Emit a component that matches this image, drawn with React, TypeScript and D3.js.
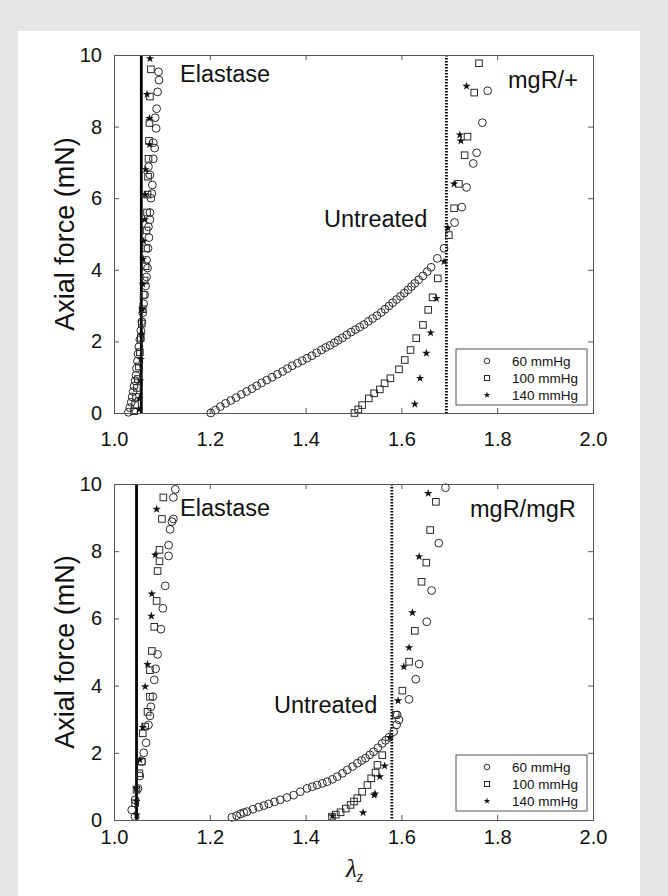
import React, { useEffect, useRef } from "react";
import * as d3 from "d3";

type Pt = [number, number];

const xTicks = [1.0, 1.2, 1.4, 1.6, 1.8, 2.0];
const yTicks = [0, 2, 4, 6, 8, 10];
const legendLabels = ["60 mmHg", "100 mmHg", "140 mmHg"];

// vertical reference lines (lambda_z): [mgR/+, mgR/mgR]
const elastaseRef = [1.057, 1.047];
const untreatedRef = [1.694, 1.58];

// ---- mgR/+ (top) ----
const hetElastase60: Pt[] = [
  [1.030, 0.02], [1.033, 0.15], [1.036, 0.3], [1.038, 0.45], [1.040, 0.6], [1.042, 0.75],
  [1.044, 0.9], [1.046, 1.05], [1.047, 1.25], [1.049, 1.45], [1.050, 1.65], [1.052, 1.85],
  [1.054, 2.05], [1.056, 2.3], [1.058, 2.55], [1.060, 2.8], [1.062, 3.05], [1.064, 3.3],
  [1.066, 3.55], [1.068, 3.8], [1.070, 4.05], [1.068, 4.27], [1.071, 4.6], [1.073, 4.9],
  [1.072, 5.2], [1.075, 5.4], [1.075, 5.6], [1.077, 6.0], [1.079, 6.13], [1.080, 6.37],
  [1.075, 6.65], [1.072, 6.88], [1.082, 7.1], [1.085, 7.4], [1.082, 7.55], [1.088, 7.95],
  [1.086, 8.25], [1.089, 8.5], [1.091, 8.97], [1.094, 9.3], [1.093, 9.53]
];
const hetElastase100: Pt[] = [
  [1.042, 0.05], [1.044, 0.22], [1.046, 0.45], [1.048, 0.7], [1.050, 0.95], [1.052, 1.3],
  [1.054, 1.7], [1.056, 2.1], [1.058, 2.5], [1.060, 2.9], [1.062, 3.3], [1.064, 3.7],
  [1.066, 4.1], [1.067, 4.6], [1.068, 5.1], [1.069, 5.6], [1.070, 6.1], [1.071, 6.6],
  [1.072, 7.1], [1.073, 7.6], [1.074, 8.1], [1.075, 8.84], [1.077, 9.6]
];
const hetElastase140: Pt[] = [
  [1.052, 0.1], [1.053, 0.4], [1.055, 0.9], [1.056, 1.5], [1.058, 2.2], [1.059, 2.9],
  [1.060, 3.6], [1.061, 4.3], [1.062, 4.8], [1.064, 5.4], [1.065, 6.1], [1.066, 6.8],
  [1.074, 7.5], [1.074, 8.23], [1.069, 8.9], [1.075, 9.9]
];
const hetUntreated60: Pt[] = [
  [1.202, 0.0], [1.212, 0.08], [1.222, 0.18], [1.233, 0.27], [1.244, 0.35], [1.255, 0.43],
  [1.266, 0.52], [1.277, 0.6], [1.288, 0.68], [1.298, 0.76], [1.308, 0.84], [1.319, 0.92],
  [1.330, 1.0], [1.341, 1.08], [1.352, 1.16], [1.362, 1.24], [1.372, 1.32], [1.383, 1.39],
  [1.393, 1.46], [1.403, 1.53], [1.413, 1.6], [1.423, 1.68], [1.433, 1.76], [1.442, 1.83],
  [1.451, 1.89], [1.460, 1.96], [1.468, 2.03], [1.477, 2.1], [1.486, 2.18], [1.495, 2.26],
  [1.504, 2.33], [1.513, 2.4], [1.522, 2.47], [1.531, 2.56], [1.540, 2.64], [1.549, 2.72],
  [1.558, 2.81], [1.566, 2.9], [1.574, 2.99], [1.582, 3.08], [1.590, 3.17], [1.598, 3.26],
  [1.606, 3.35], [1.614, 3.44], [1.621, 3.53], [1.628, 3.62], [1.636, 3.72], [1.645, 3.83],
  [1.654, 3.95], [1.662, 4.07], [1.675, 4.32], [1.689, 4.6], [1.711, 5.32], [1.726, 5.75],
  [1.736, 6.3], [1.750, 6.97], [1.757, 7.27], [1.769, 8.11], [1.780, 9.0]
];
const hetUntreated100: Pt[] = [
  [1.502, 0.0], [1.510, 0.1], [1.518, 0.22], [1.532, 0.41], [1.543, 0.55], [1.555, 0.66],
  [1.565, 0.83], [1.577, 0.97], [1.595, 1.22], [1.607, 1.48], [1.619, 1.76], [1.631, 2.09],
  [1.645, 2.46], [1.656, 2.88], [1.665, 3.23], [1.676, 3.76], [1.699, 4.97], [1.710, 5.72],
  [1.720, 6.4], [1.732, 7.2], [1.738, 7.72], [1.752, 8.95], [1.762, 9.77]
];
const hetUntreated140: Pt[] = [
  [1.628, 0.25], [1.639, 0.97], [1.652, 1.67], [1.661, 2.24], [1.673, 3.2], [1.689, 4.23],
  [1.697, 5.17], [1.710, 6.4], [1.724, 7.6], [1.722, 7.77], [1.736, 9.13]
];

// ---- mgR/mgR (bottom) ----
const homElastase60: Pt[] = [
  [1.044, 0.1], [1.037, 0.3], [1.044, 0.6], [1.050, 0.94], [1.054, 1.31], [1.058, 1.74],
  [1.062, 2.0], [1.067, 2.3], [1.072, 2.83], [1.075, 3.1], [1.077, 3.37], [1.081, 3.67],
  [1.084, 4.17], [1.087, 4.5], [1.091, 4.93], [1.098, 5.68], [1.102, 6.3], [1.107, 6.97],
  [1.114, 7.86], [1.114, 8.18], [1.117, 8.65], [1.121, 8.88], [1.124, 8.96], [1.124, 9.6],
  [1.128, 9.84]
];
const homElastase100: Pt[] = [
  [1.044, 0.5], [1.047, 0.9], [1.053, 1.39], [1.058, 1.74], [1.060, 2.58], [1.065, 2.78],
  [1.070, 3.22], [1.075, 3.67], [1.075, 4.46], [1.079, 5.03], [1.084, 5.75], [1.089, 6.52],
  [1.091, 7.41], [1.095, 7.7], [1.095, 8.04], [1.100, 8.96], [1.103, 9.6]
];
const homElastase140: Pt[] = [
  [1.047, 0.15], [1.047, 0.55], [1.047, 0.93], [1.054, 1.79], [1.060, 2.76], [1.065, 3.97],
  [1.070, 4.63], [1.078, 6.07], [1.079, 6.73], [1.086, 7.89], [1.089, 9.25]
];
const homUntreated60: Pt[] = [
  [1.246, 0.08], [1.256, 0.13], [1.264, 0.18], [1.271, 0.22], [1.278, 0.25], [1.290, 0.32],
  [1.302, 0.38], [1.313, 0.43], [1.323, 0.48], [1.335, 0.54], [1.347, 0.6], [1.361, 0.67],
  [1.375, 0.74], [1.389, 0.84], [1.403, 0.94], [1.414, 0.99], [1.424, 1.04], [1.435, 1.09],
  [1.445, 1.14], [1.456, 1.21], [1.466, 1.29], [1.477, 1.39], [1.487, 1.49], [1.498, 1.59],
  [1.508, 1.69], [1.517, 1.77], [1.525, 1.84], [1.534, 1.94], [1.542, 2.03], [1.551, 2.15],
  [1.560, 2.28], [1.567, 2.37], [1.574, 2.46], [1.584, 2.63], [1.590, 2.83], [1.595, 2.98],
  [1.591, 3.13], [1.616, 3.59], [1.630, 4.19], [1.637, 4.64], [1.653, 5.9], [1.663, 6.83],
  [1.678, 8.24], [1.692, 9.89]
];
const homUntreated100: Pt[] = [
  [1.455, 0.1], [1.463, 0.16], [1.473, 0.23], [1.484, 0.34], [1.494, 0.45], [1.501, 0.55],
  [1.508, 0.65], [1.518, 0.84], [1.529, 1.04], [1.537, 1.24], [1.546, 1.41], [1.550, 1.64],
  [1.560, 1.93], [1.588, 3.13], [1.602, 3.85], [1.616, 4.71], [1.628, 5.63], [1.642, 7.09],
  [1.652, 7.66], [1.660, 8.63], [1.672, 9.47]
];
const homUntreated140: Pt[] = [
  [1.456, 0.12], [1.520, 0.22], [1.543, 0.74], [1.545, 0.78], [1.555, 1.29], [1.565, 1.61],
  [1.576, 2.46], [1.593, 3.55], [1.605, 4.56], [1.616, 5.13], [1.623, 6.17], [1.637, 7.84],
  [1.656, 9.72]
];

const FONT = "'Liberation Sans', Arial, Helvetica, sans-serif";
const W = 668;
const H = 896;

export default function App() {
  const svgRef = useRef<SVGSVGElement>(null);

  useEffect(() => {
    const svg = d3.select(svgRef.current);
    svg.selectAll("*").remove();

    svg.append("rect").attr("width", W).attr("height", H).attr("fill", "#e6e6e7");
    svg.append("rect").attr("x", 18).attr("y", 31).attr("width", 622).attr("height", H - 31).attr("fill", "#fff");

    const x = d3.scaleLinear().domain([1, 2]).range([114, 593]);

    const panels = [
      {
        top: 55, bottom: 413, pad: 19, idx: 0, name: "mgR/+", nameX: 508, nameY: 88,
        elY: 82, untX: 324, untY: 227, legY: 349,
        series: [hetElastase60, hetUntreated60, hetElastase100, hetUntreated100, hetElastase140, hetUntreated140]
      },
      {
        top: 484, bottom: 820, pad: 10, idx: 1, name: "mgR/mgR", nameX: 470, nameY: 517,
        elY: 516, untX: 274, untY: 713, legY: 755,
        series: [homElastase60, homUntreated60, homElastase100, homUntreated100, homElastase140, homUntreated140]
      }
    ];

    const star = d3.symbol().type(d3.symbolStar);

    function marker(g: any, kind: number, px: number, py: number, small = false) {
      if (kind === 0) {
        g.append("circle").attr("cx", px).attr("cy", py).attr("r", small ? 2.8 : 3.9)
          .attr("fill", "none").attr("stroke", "#2a2a2a").attr("stroke-width", 1);
      } else if (kind === 1) {
        const s = small ? 5 : 6.6;
        g.append("rect").attr("x", px - s / 2).attr("y", py - s / 2).attr("width", s).attr("height", s)
          .attr("fill", "none").attr("stroke", "#2a2a2a").attr("stroke-width", 1);
      } else {
        g.append("path").attr("d", star.size(small ? 14 : 22)()).attr("transform", `translate(${px},${py})`)
          .attr("fill", "#111");
      }
    }

    panels.forEach((p) => {
      const y = d3.scaleLinear().domain([0, 10]).range([p.bottom, p.top]);
      const g = svg.append("g");

      // reference lines
      g.append("line").attr("x1", x(elastaseRef[p.idx])).attr("x2", x(elastaseRef[p.idx]))
        .attr("y1", p.top).attr("y2", p.bottom).attr("stroke", "#000").attr("stroke-width", 2.8);
      g.append("line").attr("x1", x(untreatedRef[p.idx])).attr("x2", x(untreatedRef[p.idx]))
        .attr("y1", p.top).attr("y2", p.bottom).attr("stroke", "#000").attr("stroke-width", 2.8)
        .attr("stroke-dasharray", "1.6,1.4");

      // data
      p.series.forEach((s, i) => {
        const kind = Math.floor(i / 2);
        s.forEach((d) => marker(g, kind, x(d[0]), y(d[1])));
      });

      // axes (inward ticks on all sides)
      const ax = g.append("g").attr("font-family", FONT);
      const bottomAxis = ax.append("g").attr("transform", `translate(0,${p.bottom})`)
        .call(d3.axisBottom(x).tickValues(xTicks).tickSize(-5).tickPadding(p.pad).tickFormat(d3.format(".1f")));
      const leftAxis = ax.append("g").attr("transform", `translate(114,0)`)
        .call(d3.axisLeft(y).tickValues(yTicks).tickSize(-5).tickPadding(12).tickFormat(d3.format("d")));
      ax.append("g").attr("transform", `translate(0,${p.top})`)
        .call(d3.axisTop(x).tickValues(xTicks).tickSize(-5).tickFormat(() => ""));
      ax.append("g").attr("transform", `translate(593,0)`)
        .call(d3.axisRight(y).tickValues(yTicks).tickSize(-5).tickFormat(() => ""));
      ax.selectAll(".domain").attr("stroke", "#555");
      ax.selectAll(".tick line").attr("stroke", "#555");
      [bottomAxis, leftAxis].forEach((a) => a.selectAll("text").attr("font-size", 20).attr("fill", "#111"));

      // y label
      g.append("text").attr("transform", `translate(74,${(p.top + p.bottom) / 2}) rotate(-90)`)
        .attr("text-anchor", "middle").attr("font-family", FONT).attr("font-size", 27).attr("fill", "#111")
        .text("Axial force (mN)");

      // annotations
      const ann = (t: string, tx: number, ty: number) =>
        g.append("text").attr("x", tx).attr("y", ty).attr("font-family", FONT).attr("font-size", 23.5)
          .attr("fill", "#111").text(t);
      ann("Elastase", 180, p.elY);
      ann(p.name, p.nameX, p.nameY);
      ann("Untreated", p.untX, p.untY);

      // legend
      const lg = g.append("g");
      lg.append("rect").attr("x", 456).attr("y", p.legY).attr("width", 131).attr("height", 56)
        .attr("fill", "#fff").attr("stroke", "#555").attr("stroke-width", 1);
      legendLabels.forEach((lab, i) => {
        const ly = p.legY + 12 + i * 17;
        marker(lg, i, 487, ly, true);
        lg.append("text").attr("x", 512).attr("y", ly).attr("dy", "0.35em").attr("font-family", FONT)
          .attr("font-size", 13.5).attr("fill", "#111").text(lab);
      });
    });

    // x label
    const xl = svg.append("text").attr("x", 346).attr("y", 877).attr("font-family", "'Liberation Serif', 'Times New Roman', serif")
      .attr("font-size", 25).attr("font-style", "italic").attr("fill", "#111");
    xl.append("tspan").text("λ");
    xl.append("tspan").attr("font-size", 16).attr("dy", 5).text("z");
  }, []);

  return (
    <svg ref={svgRef} width={W} height={H} style={{ position: "absolute", left: 0, top: 0 }} />
  );
}
